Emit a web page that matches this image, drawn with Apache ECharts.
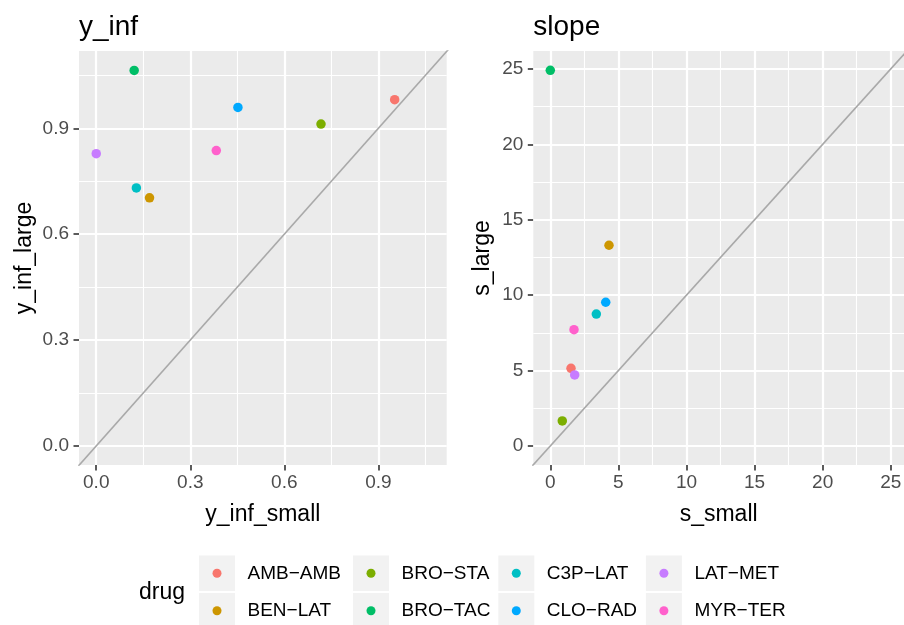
<!DOCTYPE html>
<html>
<head>
<meta charset="utf-8">
<script src="https://cdn.jsdelivr.net/npm/echarts@6/dist/echarts.min.js"></script>
<style>
html,body{margin:0;padding:0;background:#fff;}
#chart{width:904px;height:625px;}
</style>
</head>
<body>
<div id="chart"></div>
<script>
// ---- data ----
var drugs = ['AMB\u2212AMB','BEN\u2212LAT','BRO\u2212STA','BRO\u2212TAC','C3P\u2212LAT','CLO\u2212RAD','LAT\u2212MET','MYR\u2212TER'];
var drugColors = ['#F8766D','#CD9600','#7CAE00','#00BE67','#00BFC4','#00A9FF','#C77CFF','#FF61CC'];
var yInfSmall = [0.952, 0.170, 0.717, 0.121, 0.128, 0.452, 0.000, 0.383];
var yInfLarge = [0.981, 0.703, 0.912, 1.064, 0.731, 0.959, 0.828, 0.837];
var sSmall = [1.52, 4.31, 0.88, 0.00, 3.38, 4.07, 1.79, 1.74];
var sLarge = [5.15, 13.31, 1.66, 24.91, 8.75, 9.53, 4.71, 7.71];
var yInfTicks = [0, 0.3, 0.6, 0.9];
var yInfMinor = [0.15, 0.45, 0.75, 1.05];
var slopeTicks = [0, 5, 10, 15, 20, 25];
var slopeMinor = [2.5, 7.5, 12.5, 17.5, 22.5];
var identityLine = [-100, 100];

// ---- layout ----
var FONT = '"Liberation Sans", Arial, Helvetica, sans-serif';
var panels = [
  {title:'y_inf', left:79, width:367.7, xmin:-0.055, xmax:1.118, ymin:-0.054, ymax:1.119,
   ticks:yInfTicks, minor:yInfMinor, xs:yInfSmall, ys:yInfLarge, xname:'y_inf_small', yname:'y_inf_large',
   xgap:38, ygap:42.5, fmt:function(v){return v.toFixed(1);}},
  {title:'slope', left:533.3, width:370.7, xmin:-1.248, xmax:25.97, ymin:-1.26, ymax:26.19,
   ticks:slopeTicks, minor:slopeMinor, xs:sSmall, ys:sLarge, xname:'s_small', yname:'s_large',
   xgap:38, ygap:39, fmt:function(v){return String(v);}}
];
var TOP = 51, HEIGHT = 414;

var grids = [], xAxes = [], yAxes = [], series = [], titles = [];
panels.forEach(function(p, i){
  grids.push({left:p.left, top:TOP, width:p.width, height:HEIGHT, show:true,
    backgroundColor:'#EBEBEB', borderWidth:0, containLabel:false, outerBoundsMode:'none'});
  titles.push({text:p.title, left:p.left, top:13, padding:0,
    textStyle:{fontFamily:FONT, fontSize:28, fontWeight:'normal', color:'#000'}});
  var common = function(name, gap, min, max){
    return {type:'value', gridIndex:i, min:min, max:max,
      name:name, nameLocation:'middle', nameGap:gap,
      nameTextStyle:{fontFamily:FONT, fontSize:23, color:'#000'},
      axisLine:{show:true, onZero:false, lineStyle:{color:'#EBEBEB', width:0, opacity:0}},
      axisTick:{show:true, inside:false, customValues:p.ticks, length:5.5, lineStyle:{color:'#333333', width:1.6, opacity:1}},
      axisLabel:{show:true, customValues:p.ticks, formatter:p.fmt, fontFamily:FONT, fontSize:19, color:'#4D4D4D'},
      splitLine:{show:false}, minorSplitLine:{show:false}};
  };
  var xa = common(p.xname, p.xgap, p.xmin, p.xmax); xa.axisLabel.margin = 8;
  var ya = common(p.yname, p.ygap, p.ymin, p.ymax); ya.axisLabel.margin = 10;
  xAxes.push(xa); yAxes.push(ya);

  // grid lines (major + minor) drawn as mark lines at the tick values
  var ml = [];
  p.ticks.forEach(function(v){ ml.push({xAxis:v, lineStyle:{width:2.2}}); ml.push({yAxis:v, lineStyle:{width:2.2}}); });
  p.minor.forEach(function(v){ ml.push({xAxis:v, lineStyle:{width:1.1}}); ml.push({yAxis:v, lineStyle:{width:1.1}}); });
  series.push({type:'line', xAxisIndex:i, yAxisIndex:i, data:[], z:1, silent:true,
    markLine:{silent:true, symbol:['none','none'], z:1, animation:false,
      label:{show:false}, emphasis:{disabled:true},
      lineStyle:{color:'#FFFFFF', type:'solid', width:2.2}, data:ml}});
  // identity reference line
  series.push({type:'line', xAxisIndex:i, yAxisIndex:i, z:2, silent:true, symbol:'none', clip:true,
    data:[[identityLine[0], identityLine[0]], [identityLine[1], identityLine[1]]],
    lineStyle:{color:'#A9A9A9', width:1.6}});
  // points
  drugs.forEach(function(d, k){
    series.push({type:'scatter', name:d, xAxisIndex:i, yAxisIndex:i, z:3,
      symbol:'circle', symbolSize:9.5, itemStyle:{color:drugColors[k], opacity:1},
      data:[[p.xs[k], p.ys[k]]]});
  });
});

// ---- legend (ggplot-like, 2 rows, column-major) ----
var colBoxLeft = [199, 353, 498.3, 645.9];
var rowBoxTop = [555.5, 593];
var KEY = 36, DOT = 9;
var legends = [], graphics = [];
drugs.forEach(function(d, k){
  var col = Math.floor(k / 2), row = k % 2;
  var cx = colBoxLeft[col] + KEY/2, cy = rowBoxTop[row] + 17.8;
  graphics.push({type:'rect', z:-1, shape:{x:colBoxLeft[col], y:rowBoxTop[row], width:KEY, height:35.5}, style:{fill:'#F2F2F2'}, silent:true});
  legends.push({data:[d], left:cx - DOT/2, top:cy - 10, padding:0, itemGap:0,
    icon:'circle', itemWidth:DOT, itemHeight:DOT, selectedMode:false,
    textStyle:{fontFamily:FONT, fontSize:19, color:'#000', lineHeight:20, padding:[0,0,0,21]}});
});
graphics.push({type:'text', left:139, top:581, style:{text:'drug', fontFamily:FONT, fontSize:23, fill:'#000'}, silent:true});

var chart = echarts.init(document.getElementById('chart'), null, {renderer:'canvas'});
chart.setOption({
  animation:false,
  backgroundColor:'#FFFFFF',
  title:titles,
  grid:grids,
  xAxis:xAxes,
  yAxis:yAxes,
  legend:legends,
  graphic:graphics,
  series:series
});
</script>
</body>
</html>
